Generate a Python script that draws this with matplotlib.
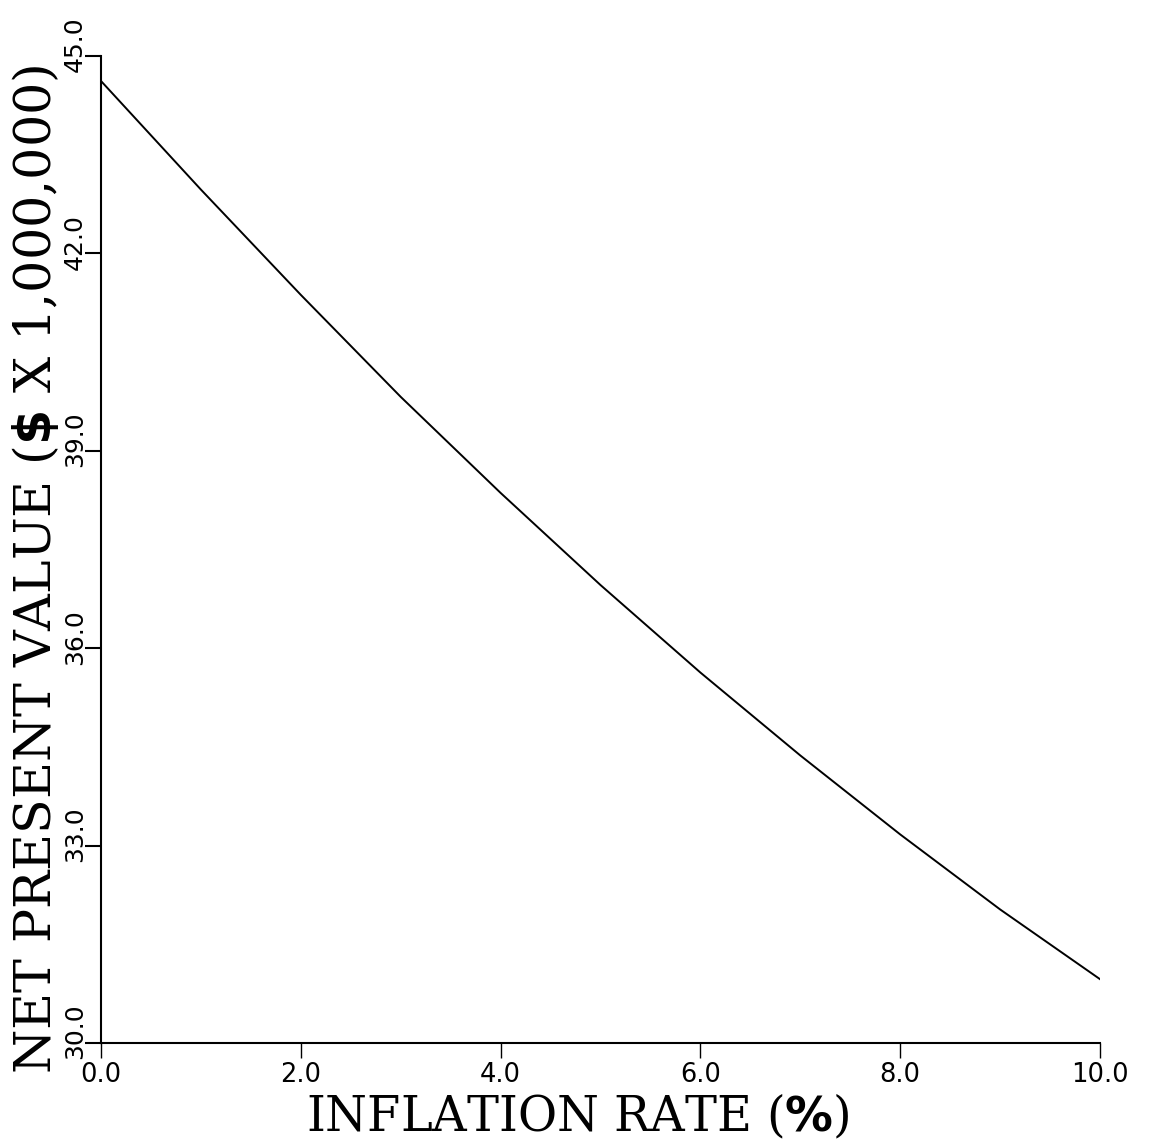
import matplotlib
matplotlib.use("Agg")
import matplotlib.pyplot as plt
import matplotlib.transforms as mtransforms

# Net present value versus inflation rate
inflation_pct = [0.0, 1.0, 2.0, 3.0, 4.0, 5.0, 6.0, 7.0, 8.0, 9.0, 10.0]
npv_millions = [44.62, 42.97, 41.37, 39.82, 38.36, 36.96, 35.63, 34.37, 33.17, 32.03, 30.97]

x_ticks = [0.0, 2.0, 4.0, 6.0, 8.0, 10.0]
x_tick_labels = ["0.0", "2.0", "4.0", "6.0", "8.0", "10.0"]
y_ticks = [30.0, 33.0, 36.0, 39.0, 42.0, 45.0]
y_tick_labels = ["30.0", "33.0", "36.0", "39.0", "42.0", "45.0"]

x_label = r"INFLATION RATE ($\mathbf{\%}$)"
y_label = r"NET PRESENT VALUE ($\mathbf{\$}$ X 1,000,000)"

plt.rcParams["mathtext.fontset"] = "dejavusans"

W, H = 1149, 1139
fig = plt.figure(figsize=(W / 100, H / 100), dpi=100)
fig.patch.set_facecolor("white")
ax = fig.add_axes([101 / W, 1 - 1043 / H, 999 / W, 987 / H])

ax.plot(inflation_pct, npv_millions, color="black", linewidth=1.4,
        solid_joinstyle="round")

ax.set_xlim(0, 10)
ax.set_ylim(30, 45)

for side in ("top", "right"):
    ax.spines[side].set_visible(False)
for side in ("left", "bottom"):
    ax.spines[side].set_linewidth(1.5)
    ax.spines[side].set_color("black")

ax.set_xticks(x_ticks)
ax.set_xticklabels(x_tick_labels, fontsize=18.5, family="DejaVu Sans")
ax.tick_params(axis="x", direction="out", length=11, width=1.0, pad=3)

ax.set_yticks(y_ticks)
ax.set_yticklabels([])
ax.tick_params(axis="y", direction="out", length=11.5, width=1.5, pad=0)

# rotated y tick labels, sitting just above each tick
shift = mtransforms.ScaledTranslation(-26 / 100, 11.5 / 100, fig.dpi_scale_trans)
for val, lab in zip(y_ticks, y_tick_labels):
    ax.text(0, val, lab, transform=ax.get_yaxis_transform() + shift,
            rotation=90, ha="center", va="center", fontsize=18,
            family="DejaVu Sans", color="black")

ax.set_xlabel(x_label, fontsize=34.5, family="DejaVu Serif", color="black")
ax.xaxis.set_label_coords((578 - 101) / 999, (1043 - 1092) / 987)

ax.set_ylabel(y_label, fontsize=36.5, family="DejaVu Serif", color="black")
ax.yaxis.set_label_coords((62 - 101) / 999, (1043 - 569) / 987)

fig.savefig("out.png", dpi=100, facecolor="white")
